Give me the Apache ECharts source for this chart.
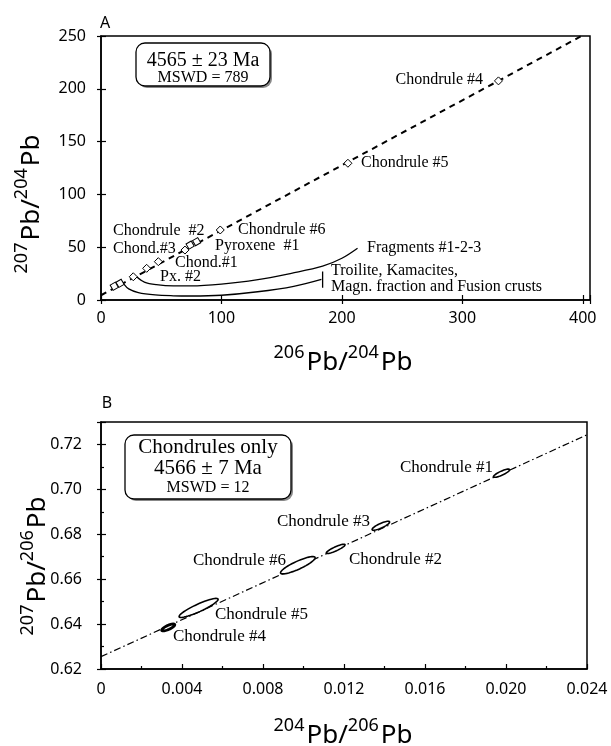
<!DOCTYPE html>
<html><head><meta charset="utf-8">
<script src="https://cdn.jsdelivr.net/npm/echarts/dist/echarts.min.js"></script>
<style>html,body{margin:0;padding:0;background:#fff}#c{width:611px;height:746px}</style>
</head><body><div id="c"></div>
<script>
// ---------- Panel A data (207Pb/204Pb vs 206Pb/204Pb) ----------
const isochronA = [[0, 4.5], [399, 250]];
const chondrulePtsA = [[330, 207.5], [205, 129.5], [99, 66.3], [69.7, 47.3], [47.6, 36.3], [37.9, 30], [26.8, 22]];
const otherPtsA = [[79.4, 55.2], [74, 52], [15.8, 15.8], [11, 13]];
const fragmentsCurve = [[29.6, 22], [36, 17], [46, 14.5], [60, 13.3], [75, 13.3], [100, 15], [129, 19], [158, 25.3], [184, 32], [200, 39.5], [213, 49]];
const troiliteCurve = [[19, 15], [23, 10.5], [31, 7], [45, 4.8], [60, 4], [75, 3.8], [100, 4.5], [130, 7.8], [160, 13], [183, 19.6]];
const troiliteBar = [[184, 11.5], [184, 27]];
const xTicksA = [0, 100, 200, 300, 400];
const yTicksA = [0, 50, 100, 150, 200, 250];

// ---------- Panel B data (207Pb/206Pb vs 204Pb/206Pb) ----------
const isochronB = [[0, 0.6255], [0.024, 0.7243]];
const ellNames = ['Chondrule #1', 'Chondrule #2', 'Chondrule #3', 'Chondrule #4', 'Chondrule #5', 'Chondrule #6'];
const ellX = [0.01978, 0.01159, 0.01382, 0.00332, 0.00482, 0.00972];
const ellY = [0.7072, 0.6735, 0.6838, 0.6385, 0.6472, 0.6662];
const ellHalfX = [0.0004, 0.00046, 0.00043, 0.00032, 0.00096, 0.00085];
const xTicksB = ['0', '0.004', '0.008', '0.012', '0.016', '0.020', '0.024'];
const yTicksB = ['0.62', '0.64', '0.66', '0.68', '0.70', '0.72'];

// ---------- styles ----------
const ellMinorPx = [2, 2, 2.3, 2, 3.8, 4];
const ellStroke = [1.6, 1.6, 1.6, 2.8, 1.6, 1.6];
const SANS = 'Noto Sans';
const SERIF = 'Liberation Serif';

const chart = echarts.init(document.getElementById('c'), null, {renderer: 'canvas'});

const axisLineStyle = {color: '#000', width: 1.5};
const tickStyle = {color: '#000', width: 1.2};
function mainAxis(gridIndex, min, max, interval, fmt, margin, extra) {
  return Object.assign({
    type: 'value', gridIndex, min, max, interval,
    axisLine: {show: true, onZero: false, lineStyle: axisLineStyle},
    axisTick: {show: true, inside: true, length: 5, lineStyle: tickStyle},
    axisLabel: {show: true, margin, color: '#000', fontFamily: SANS, fontSize: 16, formatter: fmt},
    splitLine: {show: false}
  }, extra || {});
}
function overlayAxis(gridIndex, min, max, interval, extra) {
  return Object.assign({
    type: 'value', gridIndex, min, max, interval,
    axisLine: {show: false, onZero: false},
    axisTick: {show: true, inside: false, length: 4, lineStyle: tickStyle},
    axisLabel: {show: false},
    splitLine: {show: false}
  }, extra || {});
}
const fmtXA = v => xTicksA.indexOf(v) >= 0 ? String(v) : '';
const fmtYA = v => yTicksA.indexOf(v) >= 0 ? String(v) : '';
const fmtXB = v => { const s = v === 0 ? '0' : v.toFixed(3); return xTicksB.indexOf(s) >= 0 ? s : ''; };
const fmtYB = v => { const s = v.toFixed(2); return (yTicksB.indexOf(s) >= 0 && Math.abs(v - 0.73) > 1e-6) ? s : ''; };

const slopeB = (isochronB[1][1] - isochronB[0][1]) / (isochronB[1][0] - isochronB[0][0]);
const ellData = ellX.map((x, i) => [x, ellY[i], ellHalfX[i], ellMinorPx[i], ellStroke[i]]);

function serifText(x, y, text, size, align) {
  return {type: 'text', x, y, silent: true, z: 50,
    style: {text, fill: '#000', fontFamily: SERIF, fontSize: size, align: align || 'left', verticalAlign: 'middle',
            textAlign: align || 'left', textVerticalAlign: 'middle'}};
}
function axisTitle(x, y, a, b, rot) {
  return {type: 'text', x, y, rotation: rot || 0, silent: true, z: 50,
    style: {text: '{s|' + a + '}{m|Pb/}{s|' + b + '}{m|Pb}', align: 'center', verticalAlign: 'middle',
      textAlign: 'center', textVerticalAlign: 'middle', fill: '#000',
      rich: {
        m: {fontFamily: SANS, fontSize: 26, lineHeight: 32, verticalAlign: 'bottom', fill: '#000'},
        s: {fontFamily: SANS, fontSize: 18, lineHeight: 20, verticalAlign: 'top', padding: [0, 2, 0, 0], fill: '#000'}
      }}};
}
function box(x, y, w, h) {
  return [
    {type: 'rect', shape: {x: x + 2, y: y + 2, width: w, height: h, r: 9}, style: {fill: '#888'}, silent: true, z: 40},
    {type: 'rect', shape: {x, y, width: w, height: h, r: 9}, style: {fill: '#fff', stroke: '#000', lineWidth: 1.3}, silent: true, z: 41}
  ];
}

const graphics = [].concat(
  [{type: 'text', x: 105, y: 23, silent: true, style: {text: 'A', fontFamily: SANS, fontSize: 16, fill: '#000', align: 'center', verticalAlign: 'middle', textAlign: 'center', textVerticalAlign: 'middle'}},
   {type: 'text', x: 107, y: 403, silent: true, style: {text: 'B', fontFamily: SANS, fontSize: 16, fill: '#000', align: 'center', verticalAlign: 'middle', textAlign: 'center', textVerticalAlign: 'middle'}}],
  box(136, 43, 134, 43),
  [serifText(203, 61, '4565 ± 23 Ma', 20, 'center'), serifText(203, 78, 'MSWD = 789', 16, 'center')],
  box(125, 435, 166, 64),
  [serifText(208, 447, 'Chondrules only', 21, 'center'), serifText(208, 468, '4566 ± 7 Ma', 21, 'center'), serifText(208, 488, 'MSWD = 12', 16, 'center')],
  // panel A labels
  [serifText(483, 80, 'Chondrule #4', 16, 'right'),
   serifText(361, 163, 'Chondrule #5', 16),
   serifText(238, 230, 'Chondrule #6', 16),
   serifText(113, 231, 'Chondrule  #2', 16),
   serifText(215, 246, 'Pyroxene  #1', 16),
   serifText(113, 249, 'Chond.#3', 16),
   serifText(175, 263, 'Chond.#1', 16),
   serifText(160, 277, 'Px. #2', 16),
   serifText(367, 248, 'Fragments #1-2-3', 16),
   serifText(331, 271, 'Troilite, Kamacites,', 16),
   serifText(331, 287, 'Magn. fraction and Fusion crusts', 16)],
  // panel B labels
  [serifText(493, 468, ellNames[0], 17, 'right'),
   serifText(370, 522, ellNames[2], 17, 'right'),
   serifText(349, 560, ellNames[1], 17),
   serifText(286, 561, ellNames[5], 17, 'right'),
   serifText(215, 615, ellNames[4], 17),
   serifText(173, 637, ellNames[3], 17)],
  [axisTitle(343, 360, '206', '204'),
   axisTitle(29, 204, '207', '204', Math.PI / 2),
   axisTitle(343, 733, '204', '206'),
   axisTitle(35, 566, '207', '206', Math.PI / 2)]
);

const option = {
  animation: false,
  backgroundColor: '#fff',
  grid: [
    {left: 101, right: 21, top: 36, height: 264, show: true, borderColor: '#000', borderWidth: 1.5, backgroundColor: 'transparent'},
    {left: 101, right: 24, top: 422, height: 247, show: true, borderColor: '#000', borderWidth: 1.5, backgroundColor: 'transparent'}
  ],
  xAxis: [
    mainAxis(0, 0, 406, 100, fmtXA, 10, {position: 'bottom'}),
    overlayAxis(0, 0, 406, 100, {position: 'bottom'}),
    mainAxis(1, 0, 0.024, 0.004, fmtXB, 12, {position: 'bottom', minorTick: {show: true, splitNumber: 2, length: 3, lineStyle: tickStyle}}),
  ],
  yAxis: [
    mainAxis(0, 0, 250, 50, fmtYA, 15, {position: 'left'}),
    overlayAxis(0, 0, 250, 50, {position: 'left'}),
    mainAxis(1, 0.62, 0.73, 0.02, fmtYB, 19, {position: 'left', minorTick: {show: true, splitNumber: 2, length: 3, lineStyle: tickStyle}}),
    overlayAxis(1, 0.62, 0.73, 0.02, {position: 'left'})
  ],
  series: [
    {type: 'line', xAxisIndex: 0, yAxisIndex: 0, data: isochronA, symbol: 'none', lineStyle: {color: '#000', width: 2, type: [6, 5]}, z: 3},
    {type: 'line', xAxisIndex: 0, yAxisIndex: 0, data: fragmentsCurve, symbol: 'none', smooth: 0.35, lineStyle: {color: '#000', width: 1.3}, z: 3},
    {type: 'line', xAxisIndex: 0, yAxisIndex: 0, data: troiliteCurve, symbol: 'none', smooth: 0.35, lineStyle: {color: '#000', width: 1.3}, z: 3},
    {type: 'line', xAxisIndex: 0, yAxisIndex: 0, data: troiliteBar, symbol: 'none', lineStyle: {color: '#000', width: 1.3}, z: 3},
    {type: 'scatter', xAxisIndex: 0, yAxisIndex: 0, data: chondrulePtsA, symbol: 'diamond', symbolSize: 8,
      itemStyle: {color: '#fff', borderColor: '#000', borderWidth: 1, opacity: 1}, z: 5},
    {type: 'scatter', xAxisIndex: 0, yAxisIndex: 0, data: otherPtsA, symbol: 'rect', symbolSize: 6, symbolRotate: 30,
      itemStyle: {color: '#fff', borderColor: '#000', borderWidth: 1, opacity: 1}, z: 5},
    {type: 'line', xAxisIndex: 2, yAxisIndex: 2, data: isochronB, symbol: 'none', lineStyle: {color: '#000', width: 1.2, type: [7, 3, 1.5, 3]}, z: 3},
    {type: 'custom', xAxisIndex: 2, yAxisIndex: 2, data: ellData, clip: false, z: 5,
      renderItem: function (params, api) {
        const x = api.value(0), y = api.value(1), hx = api.value(2), b = api.value(3), lw = api.value(4);
        const p0 = api.coord([x - hx, y - hx * slopeB]);
        const p1 = api.coord([x + hx, y + hx * slopeB]);
        const c = api.coord([x, y]);
        const a = Math.hypot(p1[0] - p0[0], p1[1] - p0[1]) / 2;
        const ang = Math.atan2(p1[1] - p0[1], p1[0] - p0[0]);
        const pts = [];
        for (let k = 0; k < 48; k++) {
          const t = k / 48 * Math.PI * 2;
          const ex = a * Math.cos(t), ey = b * Math.sin(t);
          pts.push([c[0] + ex * Math.cos(ang) - ey * Math.sin(ang), c[1] + ex * Math.sin(ang) + ey * Math.cos(ang)]);
        }
        return {type: 'polygon', shape: {points: pts}, style: {fill: '#fff', stroke: '#000', lineWidth: lw}};
      }}
  ],
  graphic: graphics
};
chart.setOption(option);
</script>
</body></html>
